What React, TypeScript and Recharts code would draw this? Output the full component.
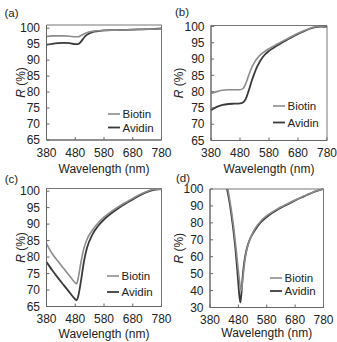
import React from 'react';
import { LineChart, Line, XAxis, YAxis, ReferenceArea, Legend } from 'recharts';

// ---------- data ----------
const xTicks = [380, 480, 580, 680, 780];
const yTicks65 = [65, 70, 75, 80, 85, 90, 95, 100];
const yTicks30 = [30, 40, 50, 60, 70, 80, 90, 100];
const seriesNames = ['Biotin', 'Avidin'];
const panelTags = ['(a)', '(b)', '(c)', '(d)'];

const aWl = [380, 400, 420, 440, 460, 480, 490, 500, 510, 520, 540, 560, 580, 620, 660, 700, 740, 780];
const aBiotin = [97.4, 97.6, 97.6, 97.6, 97.5, 97.3, 97.3, 97.7, 98.2, 98.6, 99.0, 99.2, 99.3, 99.4, 99.5, 99.6, 99.7, 99.8];
const aAvidin = [94.8, 95.1, 95.3, 95.4, 95.3, 95.0, 95.0, 95.8, 97.0, 97.9, 98.8, 99.1, 99.3, 99.4, 99.5, 99.6, 99.7, 99.9];

const bWl = [380, 400, 420, 440, 460, 480, 490, 500, 510, 520, 530, 540, 560, 580, 600, 620, 640, 660, 680, 700, 720, 740, 760, 780];
const bBiotin = [79.4, 80.0, 80.4, 80.6, 80.6, 80.6, 80.9, 82.5, 85.0, 87.3, 89.0, 90.3, 92.0, 93.2, 94.2, 95.2, 96.1, 97.0, 97.9, 98.7, 99.4, 99.9, 100.0, 99.7];
const bAvidin = [74.3, 75.3, 75.9, 76.2, 76.3, 76.4, 76.7, 77.8, 80.3, 83.2, 85.7, 87.8, 90.8, 92.5, 93.7, 94.8, 95.8, 96.8, 97.7, 98.5, 99.3, 99.8, 100.0, 99.8];

const cWl = [380, 400, 420, 440, 460, 470, 480, 485, 490, 500, 510, 520, 540, 560, 580, 600, 620, 640, 660, 680, 700, 720, 740, 760, 780];
const cBiotin = [84.0, 81.0, 78.7, 76.5, 74.3, 73.2, 72.2, 71.9, 73.5, 78.5, 82.6, 85.2, 88.2, 90.4, 92.1, 93.5, 94.7, 95.8, 96.8, 97.8, 98.8, 99.6, 100.3, 100.6, 100.6];
const cAvidin = [78.5, 76.0, 73.7, 71.5, 69.3, 68.2, 67.2, 66.9, 68.0, 72.8, 78.5, 82.5, 86.9, 89.5, 91.4, 92.9, 94.2, 95.4, 96.5, 97.5, 98.5, 99.4, 100.1, 100.5, 100.6];

const dBiotinWl = [443, 453, 463, 473, 481, 486, 490, 494, 499, 504, 514, 524, 540, 560, 580, 600, 620, 640, 660, 680, 700, 720, 740, 760, 780];
const dBiotin = [100, 90, 78, 63, 50, 43, 40, 44, 52, 59, 67, 71.5, 77, 81.2, 84.2, 86.5, 88.5, 90.2, 91.9, 93.5, 95, 96.5, 97.9, 99.1, 100];
const dAvidinWl = [440, 450, 460, 470, 478, 484, 487, 490, 495, 500, 510, 520, 540, 560, 580, 600, 620, 640, 660, 680, 700, 720, 740, 760, 780];
const dAvidin = [100, 91, 79, 64, 48, 36, 33, 37, 48, 56, 65, 70, 76, 80.5, 83.5, 86, 88, 89.8, 91.5, 93.2, 94.8, 96.3, 97.8, 99, 100];

// ---------- styles / layout ----------
const FONT = '"Liberation Sans", Arial, Helvetica, sans-serif';
const TEXT = '#222';
const seriesColors = ['#8c8c8c', '#3a3a3a'];
const seriesWidths = [1.6, 1.8];

type Layout = {
  left: number; top: number; w: number; h: number;
  plotL: number; plotR: number; plotT: number; plotB: number;
  yLabelX: number; titleY: number; legX: number; legY: number[];
  tagX: number; tagY: number;
};

const layouts: Layout[] = [
  { left: 0, top: 0, w: 180, h: 180, plotL: 46.5, plotR: 161.5, plotT: 25, plotB: 140, yLabelX: 20.5, titleY: 173, legX: 108, legY: [113.5, 127], tagX: 11.5, tagY: 13 },
  { left: 167, top: 0, w: 170, h: 180, plotL: 211, plotR: 327, plotT: 25.5, plotB: 140.5, yLabelX: 179, titleY: 173, legX: 273, legY: [106, 122.5], tagX: 182, tagY: 12 },
  { left: 0, top: 171, w: 180, h: 171, plotL: 46.5, plotR: 161.5, plotT: 188.5, plotB: 306.5, yLabelX: 21, titleY: 337.5, legX: 107, legY: [276, 292], tagX: 11.5, tagY: 179 },
  { left: 167, top: 171, w: 170, h: 171, plotL: 210, plotR: 323.5, plotT: 189, plotB: 307.5, yLabelX: 179, titleY: 337, legX: 270, legY: [277.5, 290.5], tagX: 183, tagY: 177.5 },
];

type Series = { name: string; color: string; width: number; data: { x: number; y: number }[] };

const mk = (wl: number[], vals: number[]) => wl.map((x, i) => ({ x, y: vals[i] }));
const ser = (i: number, wl: number[], vals: number[]): Series => ({
  name: seriesNames[i], color: seriesColors[i], width: seriesWidths[i], data: mk(wl, vals),
});

// Avidin drawn first so the lighter Biotin curve stays visible on top
const panels: { series: Series[]; domain: [number, number]; ticks: number[] }[] = [
  { series: [ser(1, aWl, aAvidin), ser(0, aWl, aBiotin)], domain: [65, 101], ticks: yTicks65 },
  { series: [ser(1, bWl, bAvidin), ser(0, bWl, bBiotin)], domain: [65, 100.3], ticks: yTicks65 },
  { series: [ser(1, cWl, cAvidin), ser(0, cWl, cBiotin)], domain: [65, 100.8], ticks: yTicks65 },
  { series: [ser(1, dAvidinWl, dAvidin), ser(0, dBiotinWl, dBiotin)], domain: [30, 100], ticks: yTicks30 },
];

const YTitle = (props: any) => {
  const { cx, cy } = props;
  return (
    <text x={cx} y={cy} transform={`rotate(-90 ${cx} ${cy})`} textAnchor="middle" dominantBaseline="central"
      fontSize={12} fill={TEXT} style={{ fontFamily: FONT }}>
      <tspan fontStyle="italic">R</tspan>
      <tspan> (%)</tspan>
    </text>
  );
};

const XTitle = (props: any) => {
  const { cx, by } = props;
  return (
    <text x={cx} y={by} textAnchor="middle" fontSize={12} fill={TEXT} style={{ fontFamily: FONT }}>
      Wavelength (nm)
    </text>
  );
};

const LegendBox = (props: any) => {
  const { payload, rows } = props;
  const base = rows[0];
  const items = [...(payload || [])].sort(
    (a: any, b: any) => seriesNames.indexOf(a.value) - seriesNames.indexOf(b.value)
  );
  return (
    <svg width={70} height={rows[rows.length - 1] - base + 16} style={{ display: 'block', overflow: 'visible' }}>
      {items.map((p: any, i: number) => {
        const y = 7 + (rows[i] - base);
        const si = seriesNames.indexOf(p.value);
        return (
          <g key={p.value}>
            <line x1={0} x2={12} y1={y} y2={y} stroke={p.color} strokeWidth={seriesWidths[si] || 1.6} />
            <text x={14.5} y={y} dy="0.36em" fontSize={11.5} fill={TEXT} style={{ fontFamily: FONT }}>{p.value}</text>
          </g>
        );
      })}
    </svg>
  );
};

function Panel({ lay, idx }: { lay: Layout; idx: number }) {
  const p = panels[idx];
  const margin = { top: lay.plotT - lay.top, right: lay.left + lay.w - lay.plotR, bottom: 0, left: 0 };
  const yW = lay.plotL - lay.left;
  const xH = lay.top + lay.h - lay.plotB;
  const cxPlot = (lay.plotL + lay.plotR) / 2 - lay.left;
  const cyPlot = (lay.plotT + lay.plotB) / 2 - lay.top;
  return (
    <div style={{ position: 'absolute', left: lay.left, top: lay.top }}>
      <LineChart width={lay.w} height={lay.h} margin={margin} style={{ fontFamily: FONT }}>
        <XAxis type="number" dataKey="x" domain={[380, 780]} ticks={xTicks} interval={0}
          tickSize={-3} tickMargin={11} height={xH} stroke="#666"
          tick={{ fontSize: 12, fill: TEXT, fontFamily: FONT }}
          label={<XTitle cx={cxPlot} by={lay.titleY - lay.top} />} />
        <YAxis type="number" domain={p.domain} ticks={p.ticks} interval={0}
          tickSize={-3} tickMargin={9.5} width={yW} stroke="#666"
          tick={{ fontSize: 12, fill: TEXT, fontFamily: FONT }}
          label={<YTitle cx={lay.yLabelX - lay.left} cy={cyPlot} />} />
        <ReferenceArea x1={380} x2={780} y1={p.domain[0]} y2={p.domain[1]} fill="none" stroke="#777" strokeWidth={1} />
        {p.series.map((s) => (
          <Line key={s.name} data={s.data} dataKey="y" name={s.name} type="monotone"
            stroke={s.color} strokeWidth={s.width} dot={false} activeDot={false}
            isAnimationActive={false} />
        ))}
        <Legend layout="horizontal" verticalAlign="middle" align="center"
          wrapperStyle={{ left: lay.legX - lay.left, top: lay.legY[0] - 7 - lay.top, width: 70, height: 40 }}
          content={<LegendBox rows={lay.legY} />} />
      </LineChart>
    </div>
  );
}

export default function App() {
  return (
    <div style={{ position: 'absolute', left: 0, top: 0, width: 337, height: 342, background: '#fff', fontFamily: FONT, overflow: 'hidden' }}>
      {layouts.map((lay, i) => <Panel key={i} lay={lay} idx={i} />)}
      <svg width={337} height={342} style={{ position: 'absolute', left: 0, top: 0, pointerEvents: 'none' }}>
        {layouts.map((lay, i) => (
          <text key={i} x={lay.tagX} y={lay.tagY} textAnchor="middle" dominantBaseline="central" fontSize={11.5} fill={TEXT} style={{ fontFamily: FONT }}>
            {panelTags[i]}
          </text>
        ))}
      </svg>
    </div>
  );
}
